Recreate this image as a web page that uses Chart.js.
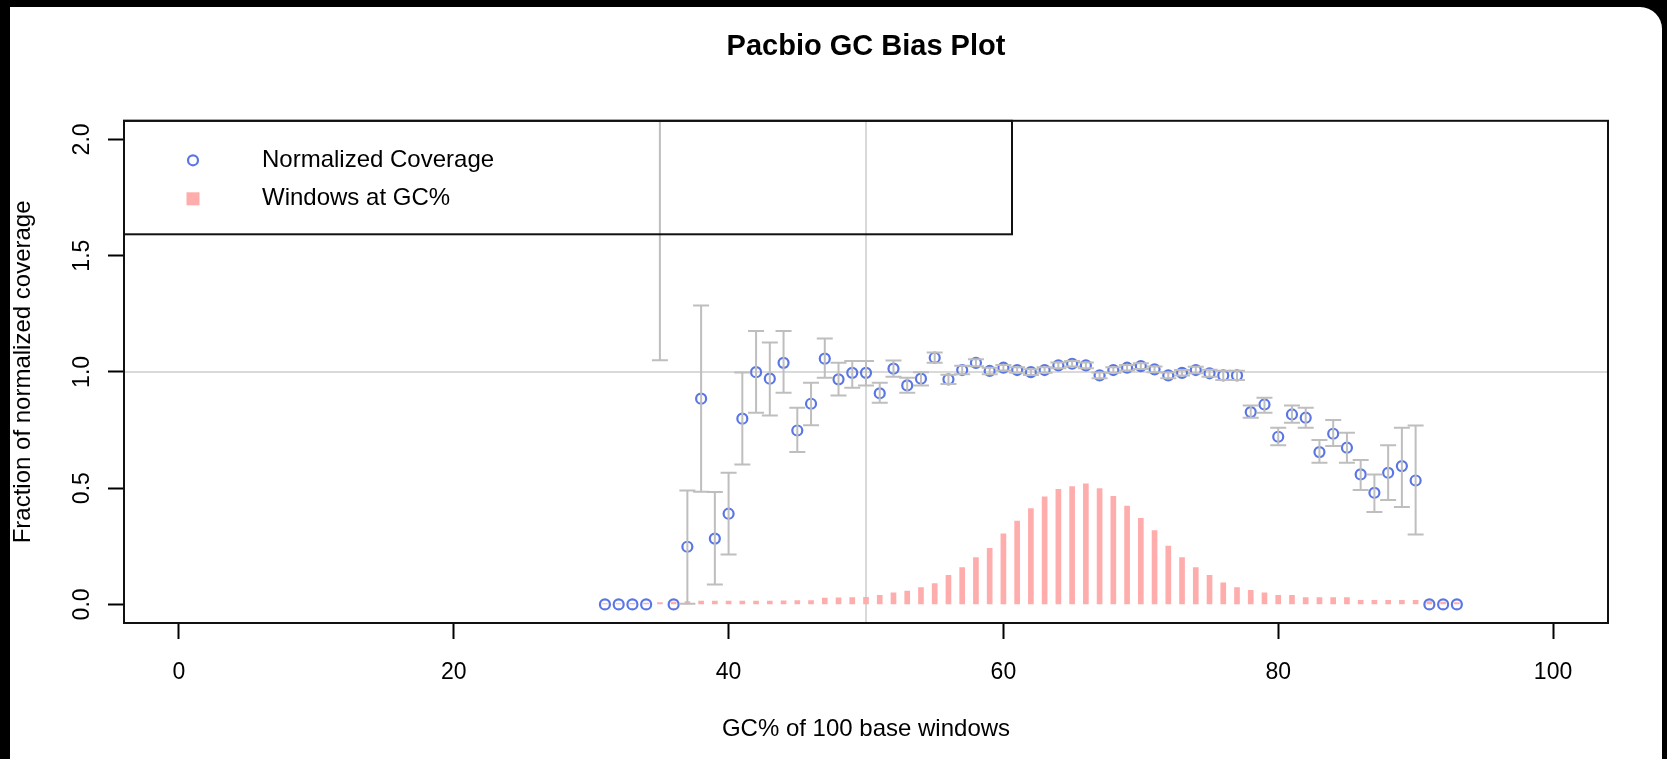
<!DOCTYPE html>
<html>
<head>
<meta charset="utf-8">
<title>Pacbio GC Bias Plot</title>
<script src="https://cdn.jsdelivr.net/npm/chart.js@4.4.1/dist/chart.umd.min.js"></script>
<style>
  html, body { margin: 0; padding: 0; background: #000; overflow: hidden; }
  #paper { position: absolute; left: 10px; top: 7px; width: 1652px; height: 752px; background: #fff; border-top-right-radius: 22px; }
  #wrap { position: absolute; left: 0; top: 0; width: 1667px; height: 759px; }
</style>
</head>
<body>
<div id="paper"></div>
<div id="wrap"><canvas id="gcBias" width="1667" height="759"></canvas></div>
<script>
// GC% of the 100 base windows (x)
const gcPercent = [31, 32, 33, 34, 35, 36, 37, 38, 39, 40,
  41, 42, 43, 44, 45, 46, 47, 48, 49, 50,
  51, 52, 53, 54, 55, 56, 57, 58, 59, 60,
  61, 62, 63, 64, 65, 66, 67, 68, 69, 70,
  71, 72, 73, 74, 75, 76, 77, 78, 79, 80,
  81, 82, 83, 84, 85, 86, 87, 88, 89, 90,
  91, 92, 93];

// normalized coverage (blue circles); 35 sits above the plot
const normCoverage = [0, 0, 0, 0, 2.6, 0, 0.248, 0.885, 0.283, 0.39,
  0.799, 0.999, 0.971, 1.039, 0.748, 0.863, 1.057, 0.968, 0.996, 0.996,
  0.908, 1.014, 0.942, 0.971, 1.061, 0.968, 1.008, 1.039, 1.004, 1.018,
  1.008, 0.999, 1.008, 1.028, 1.035, 1.028, 0.985, 1.008, 1.018, 1.025,
  1.011, 0.985, 0.996, 1.008, 0.994, 0.985, 0.985, 0.827, 0.86, 0.721,
  0.817, 0.803, 0.655, 0.734, 0.674, 0.559, 0.48, 0.566, 0.595, 0.533,
  0, 0, 0];

// error bar ends (null = no bar)
const covLower = [null, null, null, null, 1.05, null, 0.003, 0.485, 0.086, 0.215,
  0.602, 0.824, 0.813, 0.91, 0.655, 0.771, 0.975, 0.899, 0.932, 0.942,
  0.867, 0.979, 0.91, 0.942, 1.039, 0.948, 0.99, 1.024, 0.99, 1.006,
  0.996, 0.987, 0.996, 1.016, 1.023, 1.016, 0.973, 0.996, 1.006, 1.013,
  0.999, 0.973, 0.984, 0.994, 0.979, 0.965, 0.965, 0.803, 0.824, 0.685,
  0.781, 0.76, 0.609, 0.681, 0.609, 0.492, 0.397, 0.449, 0.419, 0.301,
  null, null, null];
const covUpper = [null, null, null, null, 4.15, null, 0.49, 1.286, 0.483, 0.566,
  0.997, 1.176, 1.126, 1.176, 0.846, 0.953, 1.144, 1.039, 1.047, 1.047,
  0.953, 1.049, 0.975, 0.999, 1.083, 0.988, 1.026, 1.054, 1.018, 1.03,
  1.02, 1.011, 1.02, 1.04, 1.047, 1.04, 0.997, 1.02, 1.03, 1.037,
  1.023, 0.997, 1.008, 1.022, 1.009, 1.005, 1.005, 0.856, 0.889, 0.76,
  0.856, 0.846, 0.707, 0.793, 0.738, 0.621, 0.559, 0.685, 0.76, 0.77,
  null, null, null];

// fraction of windows at each GC% (pink bars)
const windowsAtGc = [0.004, 0.004, 0.005, 0.006, 0.008, 0.01, 0.012, 0.014, 0.014, 0.014,
  0.014, 0.014, 0.014, 0.015, 0.016, 0.016, 0.027, 0.028, 0.029, 0.03,
  0.039, 0.05, 0.057, 0.072, 0.09, 0.125, 0.158, 0.201, 0.241, 0.304,
  0.358, 0.412, 0.463, 0.495, 0.507, 0.519, 0.498, 0.465, 0.423, 0.37,
  0.318, 0.251, 0.201, 0.158, 0.125, 0.093, 0.072, 0.06, 0.05, 0.039,
  0.039, 0.029, 0.029, 0.029, 0.029, 0.017, 0.017, 0.017, 0.017, 0.017,
  0.012, 0.01, 0.008];

const xTicks = [0, 20, 40, 60, 80, 100];
const yTicks = [0, 0.5, 1, 1.5, 2];
const refLinesX = [50];
const refLinesY = [1];

const FONT = "'Liberation Sans', Arial, Helvetica, sans-serif";
const BLUE = 'rgb(90, 118, 228)';
const PINK = 'rgb(255, 172, 172)';
const GREY = 'rgb(190, 190, 190)';

// abline()s under the data, error bars over it
const extras = {
  id: 'extras',
  beforeDatasetsDraw(chart) {
    const { ctx, chartArea: a, scales: { x, y } } = chart;
    ctx.save();
    ctx.beginPath();
    ctx.rect(a.left, a.top, a.width, a.height);
    ctx.clip();
    ctx.strokeStyle = 'rgb(205, 205, 205)';
    ctx.lineWidth = 1.5;
    refLinesX.forEach(v => {
      const px = x.getPixelForValue(v);
      ctx.beginPath(); ctx.moveTo(px, a.top); ctx.lineTo(px, a.bottom); ctx.stroke();
    });
    refLinesY.forEach(v => {
      const py = y.getPixelForValue(v);
      ctx.beginPath(); ctx.moveTo(a.left, py); ctx.lineTo(a.right, py); ctx.stroke();
    });
    ctx.restore();
  },
  afterDatasetsDraw(chart) {
    const { ctx, chartArea: a, scales: { x, y } } = chart;
    ctx.save();
    ctx.beginPath();
    ctx.rect(a.left, a.top, a.width, a.height);
    ctx.clip();
    ctx.strokeStyle = GREY;
    ctx.lineWidth = 2;
    gcPercent.forEach((g, i) => {
      if (covLower[i] == null) return;
      const px = x.getPixelForValue(g);
      const lo = y.getPixelForValue(covLower[i]);
      const hi = y.getPixelForValue(covUpper[i]);
      ctx.beginPath();
      ctx.moveTo(px, lo); ctx.lineTo(px, hi);
      ctx.moveTo(px - 8, lo); ctx.lineTo(px + 8, lo);
      ctx.moveTo(px - 8, hi); ctx.lineTo(px + 8, hi);
      ctx.stroke();
    });
    ctx.restore();
  },
  afterDraw(chart, args, opts) {
    const { ctx, chartArea: a } = chart;
    ctx.save();
    // box()
    ctx.strokeStyle = '#111';
    ctx.lineWidth = 2;
    ctx.strokeRect(a.left, a.top, a.width, a.height);
    // legend("topleft")
    ctx.strokeRect(a.left, a.top, opts.boxWidth, opts.boxHeight);
    ctx.font = '24px ' + FONT;
    ctx.fillStyle = '#000';
    ctx.textAlign = 'left';
    ctx.textBaseline = 'middle';
    chart.data.datasets.forEach((ds, i) => {
      const cy = a.top + opts.firstRow + i * opts.rowGap;
      const cx = a.left + opts.symbolX;
      if (ds.type === 'scatter') {
        ctx.strokeStyle = ds.borderColor;
        ctx.lineWidth = ds.borderWidth;
        ctx.beginPath();
        ctx.arc(cx, cy, ds.pointRadius, 0, Math.PI * 2);
        ctx.stroke();
      } else {
        ctx.fillStyle = ds.backgroundColor;
        ctx.fillRect(cx - 6.5, cy - 6.5, 13, 13);
      }
      ctx.fillStyle = '#000';
      ctx.fillText(ds.label, a.left + opts.textX, cy);
    });
    ctx.restore();
  }
};

new Chart(document.getElementById('gcBias'), {
  type: 'scatter',
  data: {
    datasets: [{
      type: 'scatter',
      label: 'Normalized Coverage',
      data: gcPercent.map((g, i) => ({ x: g, y: normCoverage[i] })),
      borderColor: BLUE,
      backgroundColor: 'rgba(0,0,0,0)',
      pointRadius: 5,
      borderWidth: 2.2,
      pointHoverRadius: 5,
      order: 1
    }, {
      type: 'bar',
      label: 'Windows at GC%',
      data: gcPercent.map((g, i) => ({ x: g, y: windowsAtGc[i] })),
      backgroundColor: PINK,
      borderWidth: 0,
      barThickness: 5,
      order: 2
    }]
  },
  options: {
    responsive: false,
    animation: false,
    events: [],
    layout: { padding: { left: 0, right: 59, top: 0, bottom: 0 } },
    plugins: {
      legend: { display: false },
      tooltip: { enabled: false },
      title: {
        display: true,
        text: 'Pacbio GC Bias Plot',
        fullSize: false,
        color: '#000',
        font: { family: FONT, size: 29, weight: 'bold' },
        padding: { top: 29.6, bottom: 56.4 }
      },
      extras: { boxWidth: 888, boxHeight: 113.5, symbolX: 69, textX: 138, firstRow: 39.5, rowGap: 38.5 }
    },
    scales: {
      x: {
        type: 'linear',
        min: -4,
        max: 104,
        offset: false,
        afterBuildTicks: s => { s.ticks = xTicks.map(v => ({ value: v })); },
        afterFit: s => { s.height = 136; },
        border: { display: false },
        grid: { display: true, offset: false, drawOnChartArea: false, drawTicks: true, tickLength: 16, tickColor: '#000', tickWidth: 2 },
        ticks: { color: '#000', font: { family: FONT, size: 23 }, padding: 20, maxRotation: 0, autoSkip: false, callback: v => String(v) },
        title: { display: true, text: 'GC% of 100 base windows', color: '#000', font: { family: FONT, size: 24 }, padding: { top: 0, bottom: 15 } }
      },
      y: {
        type: 'linear',
        min: -0.08,
        max: 2.08,
        afterBuildTicks: s => { s.ticks = yTicks.map(v => ({ value: v })); },
        afterFit: s => { s.width = 124; },
        border: { display: false },
        grid: { display: true, drawOnChartArea: false, drawTicks: true, tickLength: 16, tickColor: '#000', tickWidth: 2 },
        ticks: { color: '#000', font: { family: FONT, size: 23 }, padding: 9, minRotation: 90, maxRotation: 90, crossAlign: 'center', autoSkip: false, callback: v => v.toFixed(1) },
        title: { display: true, text: 'Fraction of normalized coverage', color: '#000', font: { family: FONT, size: 24 }, padding: { top: 8.6, bottom: 0 } }
      }
    }
  },
  plugins: [extras]
});
</script>
</body>
</html>
